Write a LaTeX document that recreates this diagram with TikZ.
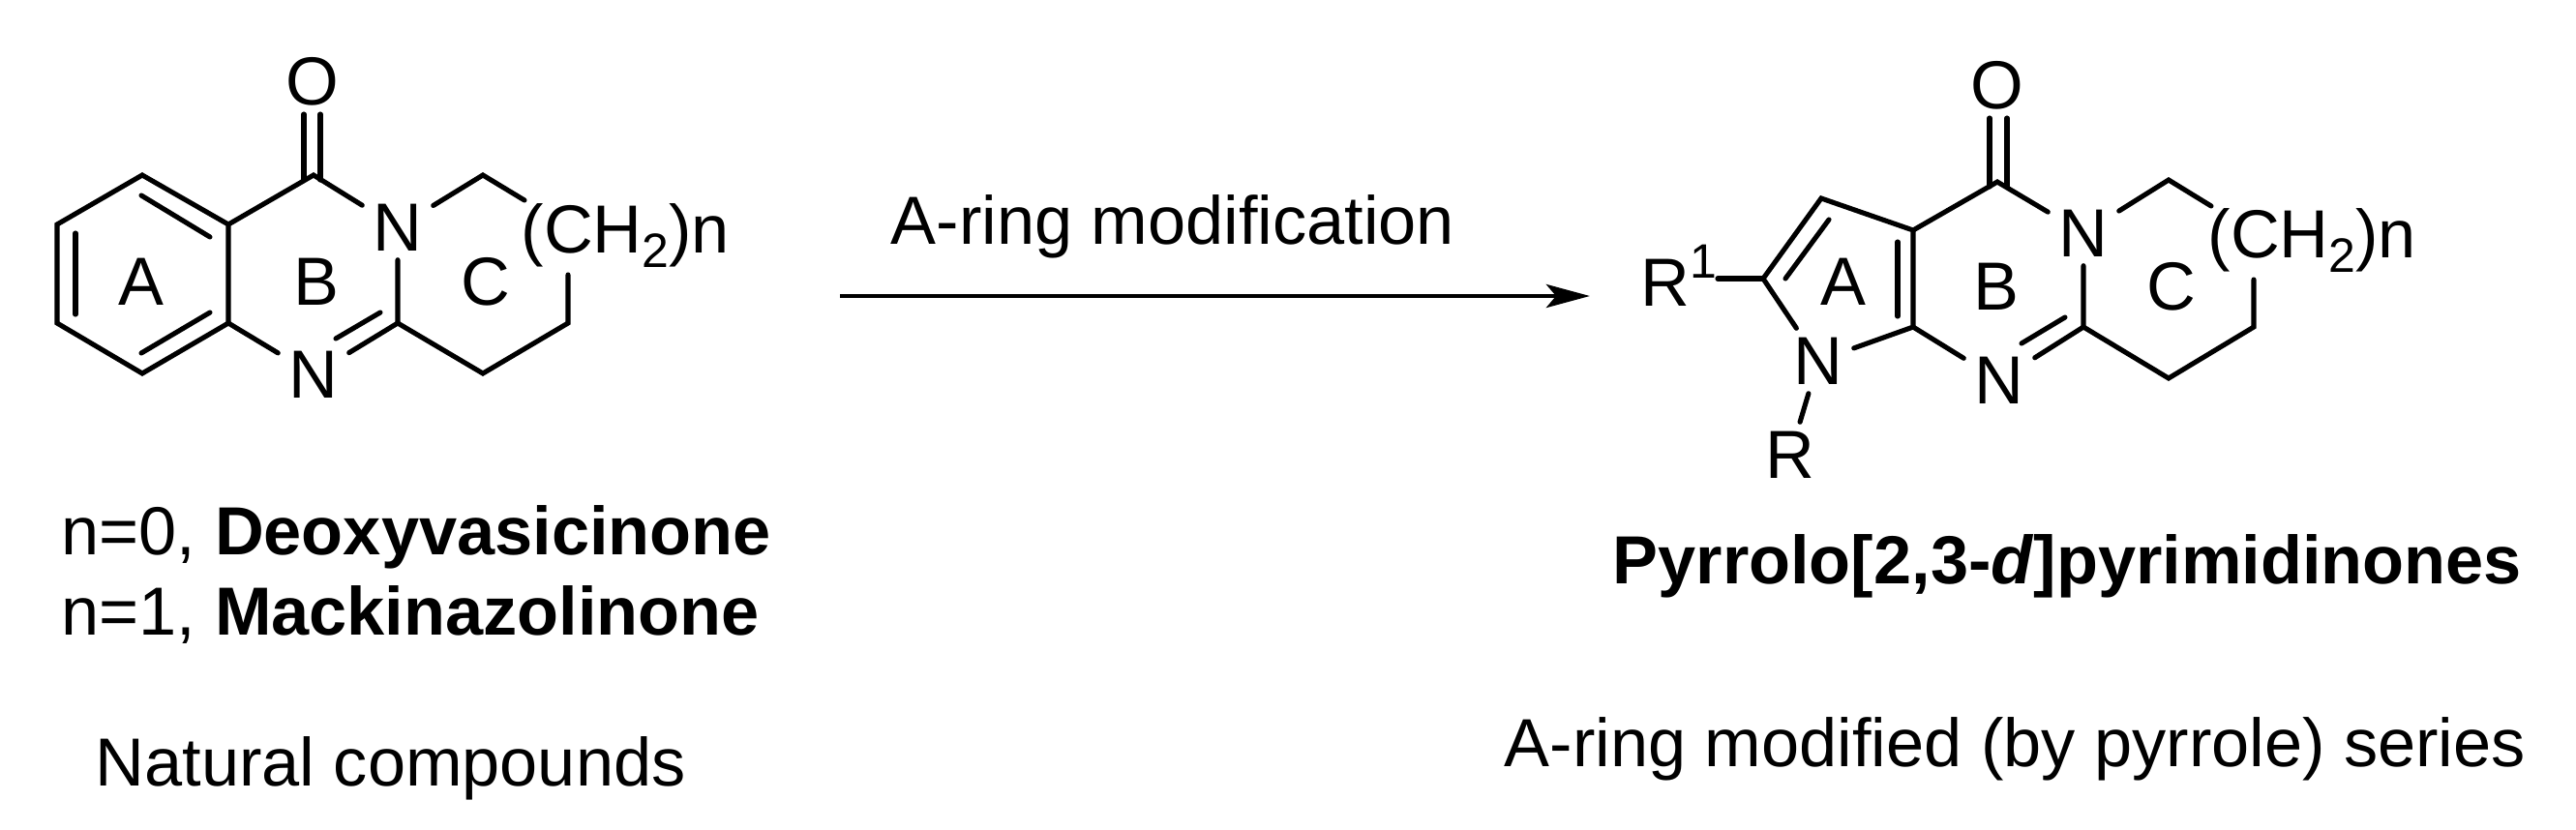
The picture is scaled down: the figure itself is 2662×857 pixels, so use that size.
\documentclass[tikz,border=0pt]{standalone}
\usepackage{fontspec}
\setmainfont{Liberation Sans}
\usetikzlibrary{arrows.meta}

\newcommand{\smallnum}[2]{\raisebox{#1}{\fontsize{14.2}{16}\selectfont #2}}

\tikzset{
	atom/.style={inner sep=0pt,minimum width=0.72cm,minimum height=0.66cm},
	label/.style={inner sep=0pt,anchor=base west},
	bond/.style={line width=1.45pt,line cap=round}
}

\begin{document}
\begin{tikzpicture}[x=0.01cm,y=-0.01cm,font=\fontsize{20}{24}\selectfont]
	\useasboundingbox (0,0) rectangle (2662,857);

	% natural compound
	\foreach \name/\x/\y in {la1/147/181,la2/59/232,la3/59/334,la4/147/386,la5/236/334,la6/236/232,
		lco/324/181,lc2/411/334,lc3/499/181,lc4/542/207,lc5/499/386,lc6/587/334,lc7/587/284,
		lo1/314/118,lo2/331/118,lc1/314/186,lc8/331/186,
		ld1/146/202,ld2/217/245,ld3/78/241,ld4/78/325,ld5/217/323,ld6/146/365,ld7/393/323,ld8/347/350}
		\coordinate (\name) at (\x,\y);

	\node [atom] (lo) at (323,84) {O};
	\node [atom] (ln3) at (411,235) {N};
	\node [atom] (ln1) at (324,387) {N};
	\node [label] (lch) at (538,261) {(CH\smallnum{-4.3pt}{2})n};

	\draw [bond] (la6) -- (la1) -- (la2) -- (la3) -- (la4) -- (la5) -- (la6) -- (lco) -- (ln3);
	\draw [bond] (la5) -- (ln1);
	\draw [bond] (ln3) -- (lc3) -- (lc4);
	\draw [bond] (ln3) -- (lc2) -- (ln1);
	\draw [bond] (lc2) -- (lc5) -- (lc6) -- (lc7);
	\draw [bond] (lo1) -- (lc1);
	\draw [bond] (lo2) -- (lc8);
	\draw [bond] (ld1) -- (ld2);
	\draw [bond] (ld3) -- (ld4);
	\draw [bond] (ld5) -- (ld6);
	\draw [bond] (ld7) -- (ld8);

	\node [atom] (la) at (146,291) {A};
	\node [atom] (lb) at (327,291) {B};
	\node [atom] (lcc) at (502,291) {C};

	% arrow
	\coordinate (ar1) at (868,306);
	\coordinate (ar2) at (1643,306);
	\draw [-{Stealth[length=0.45cm,width=0.24cm,inset=0.1cm]},line width=1.4pt] (ar1) -- (ar2);
	\node [label] (arl) at (920,252) {A-ring modification};

	% modified series
	\foreach \name/\x/\y in {rc4a/1977/238,rc7a/1977/338,rco/2064/188,rc2/2153/338,rc3/2241/186,rc5/2285/213,
		rc6/2241/391,rc7/2329/338,rc8/2329/289,rp3/1882/205,rp2/1822/288,
		ro1/2056/122,ro2/2074/122,rc1/2056/193,rc9/2074/193,
		rd1/1961/250,rd2/1961/327,rd3/2134/328,rd4/2089/355,rd5/1890/227,rd6/1845/288}
		\coordinate (\name) at (\x,\y);

	\node [atom] (ro) at (2064,88) {O};
	\node [atom] (rn3) at (2153,241) {N};
	\node [atom] (rn8) at (2066,393) {N};
	\node [atom] (rn1) at (1879,373) {N};
	\node [atom] (rr) at (1850,470) {R};
	\node [label] (rr1) at (1695,316) {R\smallnum{8.2pt}{1}};
	\node [label] (rch) at (2281,266) {(CH\smallnum{-4.3pt}{2})n};

	\draw [bond] (rn1) -- (rp2) -- (rp3) -- (rc4a) -- (rc7a) -- (rn1);
	\draw [bond] (rc4a) -- (rco) -- (rn3);
	\draw [bond] (rc7a) -- (rn8);
	\draw [bond] (rn3) -- (rc3) -- (rc5);
	\draw [bond] (rn3) -- (rc2) -- (rn8);
	\draw [bond] (rc2) -- (rc6) -- (rc7) -- (rc8);
	\draw [bond] (ro1) -- (rc1);
	\draw [bond] (ro2) -- (rc9);
	\draw [bond] (rd1) -- (rd2);
	\draw [bond] (rd3) -- (rd4);
	\draw [bond] (rd5) -- (rd6);
	\draw [bond] (rp2) -- (rr1.east |- rp2);
	\draw [bond] (rn1) -- (rr);

	\node [atom] (ra) at (1905,291) {A};
	\node [atom] (rb) at (2063,296) {B};
	\node [atom] (rcc) at (2244,296) {C};

	% captions
	\node [label] (cap1) at (63,573) {n=0, \textbf{Deoxyvasicinone}};
	\node [label] (cap2) at (63,656) {n=1, \textbf{Mackinazolinone}};
	\node [label] (cap3) at (98,812) {Natural compounds};
	\node [label] (cap4) at (1666,603) {\textbf{Pyrrolo[2,3-\textit{d}]pyrimidinones}};
	\node [label] (cap5) at (1554,792) {A-ring modified (by pyrrole) series};
\end{tikzpicture}
\end{document}
